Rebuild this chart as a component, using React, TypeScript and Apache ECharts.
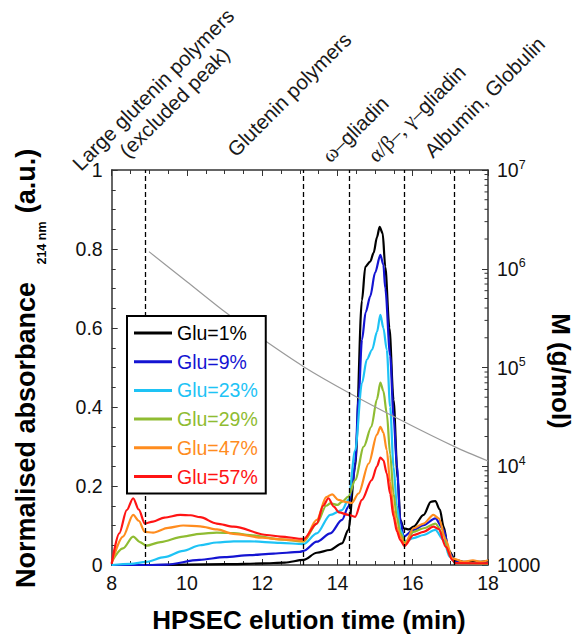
import React, { useEffect, useRef } from "react";
import * as echarts from "echarts";

// ---- data ----
const seriesNames = ["Glu=1%", "Glu=9%", "Glu=23%", "Glu=29%", "Glu=47%", "Glu=57%"];
const seriesColors = ["#000000", "#1414d2", "#1ec3f5", "#8fbc32", "#ff8c1e", "#ff1414"];

const glu1: number[][] = [
  [8.0, 0.0], [9.0, 0.0], [10.0, 0.001], [11.0, 0.002], [12.0, 0.004], [12.6, 0.006], [13.1, 0.013],
  [13.45, 0.031], [13.8, 0.038], [14.12, 0.055], [14.29, 0.089], [14.47, 0.249], [14.65, 0.67],
  [14.74, 0.755], [14.87, 0.768], [14.96, 0.79], [15.05, 0.83], [15.12, 0.856], [15.2, 0.84],
  [15.27, 0.755], [15.38, 0.6], [15.49, 0.418], [15.6, 0.22], [15.67, 0.114], [15.76, 0.093],
  [15.9, 0.09], [16.02, 0.097], [16.29, 0.127], [16.48, 0.16], [16.6, 0.162], [16.72, 0.14],
  [16.82, 0.097], [16.95, 0.038], [17.13, 0.013], [17.35, 0.008], [17.8, 0.008], [18.0, 0.01],
];
const glu9: number[][] = [
  [8.0, 0.0], [9.0, 0.0], [9.45, 0.001], [10.33, 0.013], [11.0, 0.02], [11.67, 0.025], [12.3, 0.029],
  [13.0, 0.033], [13.1, 0.036], [13.45, 0.059], [13.81, 0.08], [14.12, 0.114], [14.29, 0.148],
  [14.4, 0.2], [14.47, 0.26], [14.56, 0.42], [14.65, 0.57], [14.75, 0.64], [14.87, 0.68], [15.0, 0.74],
  [15.14, 0.785], [15.22, 0.76], [15.27, 0.7], [15.4, 0.53], [15.49, 0.376], [15.58, 0.25],
  [15.67, 0.114], [15.76, 0.072], [16.02, 0.089], [16.29, 0.101], [16.6, 0.118], [16.82, 0.089],
  [16.98, 0.03], [17.13, 0.008], [17.5, 0.005], [18.0, 0.006],
];
const glu23: number[][] = [
  [8.0, 0.0], [8.5, 0.003], [8.92, 0.008], [9.4, 0.02], [9.9, 0.036], [10.35, 0.05], [10.79, 0.057],
  [11.24, 0.06], [11.67, 0.06], [12.48, 0.056], [13.1, 0.053], [13.45, 0.08], [13.81, 0.127],
  [14.12, 0.139], [14.29, 0.165], [14.47, 0.29], [14.65, 0.46], [14.78, 0.52], [14.92, 0.545],
  [15.05, 0.59], [15.14, 0.633], [15.22, 0.6], [15.31, 0.545], [15.4, 0.4], [15.49, 0.249],
  [15.58, 0.15], [15.67, 0.089], [15.8, 0.06], [16.02, 0.068], [16.29, 0.076], [16.6, 0.089],
  [16.82, 0.063], [16.98, 0.021], [17.13, 0.005], [18.0, 0.002],
];
const glu29: number[][] = [
  [8.0, 0.008], [8.3, 0.042], [8.57, 0.072], [8.75, 0.058], [8.92, 0.049], [9.3, 0.058], [9.9, 0.072],
  [10.35, 0.079], [10.79, 0.082], [11.24, 0.081], [11.67, 0.076], [12.48, 0.065], [13.1, 0.059],
  [13.45, 0.105], [13.7, 0.15], [13.81, 0.156], [14.0, 0.152], [14.12, 0.16], [14.29, 0.173],
  [14.47, 0.215], [14.7, 0.3], [14.9, 0.35], [15.05, 0.42], [15.14, 0.462], [15.22, 0.44],
  [15.31, 0.384], [15.4, 0.28], [15.49, 0.181], [15.58, 0.12], [15.67, 0.08], [15.8, 0.057],
  [16.02, 0.084], [16.29, 0.093], [16.6, 0.105], [16.82, 0.076], [16.98, 0.025], [17.13, 0.005],
  [18.0, 0.003],
];
const glu47: number[][] = [
  [8.0, 0.005], [8.3, 0.072], [8.57, 0.127], [8.72, 0.112], [8.88, 0.084], [9.1, 0.082], [9.5, 0.094],
  [9.9, 0.1], [10.35, 0.098], [10.8, 0.09], [11.23, 0.079], [12.0, 0.069], [12.48, 0.065],
  [13.1, 0.061], [13.45, 0.114], [13.7, 0.172], [13.86, 0.179], [14.02, 0.165], [14.2, 0.16],
  [14.38, 0.157], [14.56, 0.181], [14.83, 0.257], [15.05, 0.33], [15.14, 0.35], [15.22, 0.335],
  [15.31, 0.291], [15.4, 0.21], [15.49, 0.139], [15.58, 0.095], [15.67, 0.072], [15.78, 0.051],
  [16.02, 0.093], [16.29, 0.105], [16.55, 0.127], [16.69, 0.118], [16.88, 0.063], [17.05, 0.017],
  [17.35, 0.008], [17.6, 0.012], [17.8, 0.008], [18.0, 0.012],
];
const glu57: number[][] = [
  [8.0, 0.003], [8.2, 0.08], [8.4, 0.139], [8.57, 0.169], [8.72, 0.14], [8.88, 0.105], [9.1, 0.11],
  [9.4, 0.12], [9.82, 0.127], [10.1, 0.126], [10.35, 0.121], [10.79, 0.105], [11.24, 0.097],
  [12.12, 0.076], [12.48, 0.072], [13.1, 0.066], [13.45, 0.105], [13.62, 0.15], [13.76, 0.169],
  [13.9, 0.148], [14.04, 0.133], [14.29, 0.127], [14.47, 0.122], [14.65, 0.165], [14.91, 0.215],
  [15.05, 0.25], [15.14, 0.272], [15.22, 0.265], [15.31, 0.232], [15.4, 0.18], [15.49, 0.122],
  [15.58, 0.085], [15.67, 0.063], [15.78, 0.048], [16.02, 0.076], [16.29, 0.084], [16.55, 0.097],
  [16.69, 0.091], [16.88, 0.046], [17.05, 0.013], [17.13, 0.005], [18.0, 0.004],
];
const seriesData = [glu1, glu9, glu23, glu29, glu47, glu57];

// molar mass calibration (right log axis)
const molarMass: number[][] = [
  [8.99, 1.49e6], [10.0, 7.4e5], [11.06, 3.54e5], [12.0, 1.95e5], [13.1, 1.02e5],
  [14.3, 5.56e4], [15.77, 2.82e4], [17.11, 1.58e4], [18.0, 1.13e4],
];

// fraction boundaries (dashed lines)
const boundaries = [8.89, 13.1, 14.3, 15.77, 17.11];

// minor ticks on the log axis
const logMinorTicks: number[] = [];
[1e3, 1e4, 1e5, 1e6].forEach((d) => {
  for (let k = 2; k <= 9; k++) logMinorTicks.push(d * k);
});

const SANS = '"Liberation Sans", Arial, sans-serif';
const SERIF = '"Liberation Serif", "Times New Roman", serif';
const AX = "#333";

export default function App() {
  const ref = useRef<HTMLDivElement>(null);

  useEffect(() => {
    if (!ref.current) return;
    const chart = echarts.init(ref.current, undefined, { renderer: "svg" });

    const tickCommon = {
      axisLine: { show: true, lineStyle: { color: AX, width: 1.5 } },
      axisTick: { show: true, inside: true, length: 6, lineStyle: { color: AX, width: 1 } },
      minorTick: { show: true, splitNumber: 4, length: 4, lineStyle: { color: AX, width: 1 } },
      splitLine: { show: false },
      minorSplitLine: { show: false },
    };

    const lineSeries: any[] = seriesNames.map((name, i) => ({
      name,
      type: "line",
      data: seriesData[i],
      xAxisIndex: 0,
      yAxisIndex: 0,
      symbol: "none",
      smooth: 0.3,
      smoothMonotone: "x",
      lineStyle: { color: seriesColors[i], width: 2.2 },
      itemStyle: { color: seriesColors[i] },
      z: 3,
      ...(i === 0
        ? {
            markLine: {
              silent: true,
              symbol: "none",
              label: { show: false },
              lineStyle: { color: "#000", width: 1.3, type: [5, 3] },
              data: boundaries.map((v) => ({ xAxis: v })),
            },
          }
        : {}),
    }));

    const topLabel = (x: number, y: number, text: string, rich?: any) => ({
      type: "text",
      x,
      y,
      rotation: Math.PI / 4,
      z: 10,
      style: {
        text,
        fontSize: 20.5,
        fontFamily: SANS,
        fill: "#1a1a1a",
        align: "left",
        verticalAlign: "bottom",
        ...(rich ? { rich } : {}),
      },
    });

    const greekRich = {
      g: { fontFamily: SERIF, fontSize: 21, fill: "#1a1a1a" },
      n: { fontFamily: SANS, fontSize: 20.5, fill: "#1a1a1a" },
    };

    chart.setOption({
      animation: false,
      backgroundColor: "#fff",
      grid: { left: 111.7, right: 88, top: 170, bottom: 69, containLabel: false },
      legend: {
        orient: "vertical",
        left: 127,
        top: 316,
        backgroundColor: "#fff",
        borderColor: "#000",
        borderWidth: 2,
        borderRadius: 0,
        padding: [7, 8, 7, 7],
        itemGap: 8.7,
        itemWidth: 38,
        itemHeight: 3,
        itemTextGap: 5,
        icon: "rect",
        z: 20,
        data: seriesNames.map((n, i) => ({
          name: n,
          textStyle: { color: seriesColors[i] },
        })),
        textStyle: { fontSize: 19.5, fontFamily: SANS, lineHeight: 20 },
      },
      xAxis: [
        {
          type: "value",
          min: 8,
          max: 18,
          interval: 2,
          position: "bottom",
          ...tickCommon,
          axisLabel: { fontSize: 19.5, fontFamily: SANS, color: "#111", margin: 8 },
        },
        {
          type: "value",
          min: 8,
          max: 18,
          interval: 2,
          position: "top",
          ...tickCommon,
          axisLabel: { show: false },
        },
      ],
      yAxis: [
        {
          type: "value",
          min: 0,
          max: 1,
          interval: 0.2,
          position: "left",
          ...tickCommon,
          axisLabel: { fontSize: 19.5, fontFamily: SANS, color: "#111", margin: 9 },
        },
        {
          type: "log",
          logBase: 10,
          min: 1000,
          max: 1e7,
          position: "right",
          axisLine: { show: true, lineStyle: { color: AX, width: 1.5 } },
          axisTick: { show: true, inside: true, length: 6, lineStyle: { color: AX, width: 1 } },
          splitLine: { show: false },
          axisLabel: {
            margin: 9,
            formatter: (v: number) => {
              const e = Math.round(Math.log10(v));
              if (e === 3) return "{b|1000}";
              return "{b|10}{s|" + e + "}";
            },
            rich: {
              b: { fontSize: 19.5, fontFamily: SANS, color: "#111", lineHeight: 24 },
              s: { fontSize: 12.5, fontFamily: SANS, color: "#111", lineHeight: 12, verticalAlign: "top" },
            },
          },
        },
      ],
      series: [
        ...lineSeries,
        {
          name: "M",
          type: "line",
          data: molarMass,
          xAxisIndex: 0,
          yAxisIndex: 1,
          symbol: "none",
          smooth: 0.3,
          lineStyle: { color: "#9a9a9a", width: 1.2 },
          z: 4,
        },
        {
          type: "custom",
          xAxisIndex: 0,
          yAxisIndex: 1,
          silent: true,
          clip: false,
          data: logMinorTicks.map((v) => [18, v]),
          renderItem: (params: any, api: any) => {
            const p = api.coord([api.value(0), api.value(1)]);
            return {
              type: "line",
              shape: { x1: p[0] - 3.5, y1: p[1], x2: p[0], y2: p[1] },
              style: { stroke: AX, lineWidth: 1 },
            };
          },
          z: 5,
        },
      ],
      graphic: [
        topLabel(83, 174, "Large glutenin polymers"),
        topLabel(130, 161, "(excluded peak)"),
        topLabel(238, 160, "Glutenin polymers"),
        topLabel(333, 166, "{g|ω–}{n|gliadin}", greekRich),
        topLabel(379, 166, "{g|α/β–, γ–}{n|gliadin}", greekRich),
        topLabel(435, 161, "Albumin, Globulin"),
        {
          type: "text",
          x: 309,
          y: 620,
          z: 10,
          style: {
            text: "HPSEC elution time (min)",
            fontSize: 26,
            fontWeight: "bold",
            fontFamily: SANS,
            fill: "#000",
            align: "center",
            verticalAlign: "middle",
          },
        },
        {
          type: "text",
          x: 26,
          y: 435,
          rotation: Math.PI / 2,
          z: 10,
          style: {
            text: "Normalised absorbance",
            fontSize: 27,
            fontWeight: "bold",
            fontFamily: SANS,
            fill: "#000",
            align: "center",
            verticalAlign: "middle",
          },
        },
        {
          type: "text",
          x: 42,
          y: 243,
          rotation: Math.PI / 2,
          z: 10,
          style: {
            text: "214 nm",
            fontSize: 12.5,
            fontWeight: "bold",
            fontFamily: SANS,
            fill: "#000",
            align: "center",
            verticalAlign: "middle",
          },
        },
        {
          type: "text",
          x: 26,
          y: 181,
          rotation: Math.PI / 2,
          z: 10,
          style: {
            text: "(a.u.)",
            fontSize: 27,
            fontWeight: "bold",
            fontFamily: SANS,
            fill: "#000",
            align: "center",
            verticalAlign: "middle",
          },
        },
        {
          type: "text",
          x: 561,
          y: 371,
          rotation: -Math.PI / 2,
          z: 10,
          style: {
            text: "M (g/mol)",
            fontSize: 26,
            fontWeight: "bold",
            fontFamily: SANS,
            fill: "#000",
            align: "center",
            verticalAlign: "middle",
          },
        },
      ],
    });

    return () => chart.dispose();
  }, []);

  return (
    <div
      ref={ref}
      style={{ position: "fixed", left: 0, top: 0, width: 576, height: 634 }}
    />
  );
}
